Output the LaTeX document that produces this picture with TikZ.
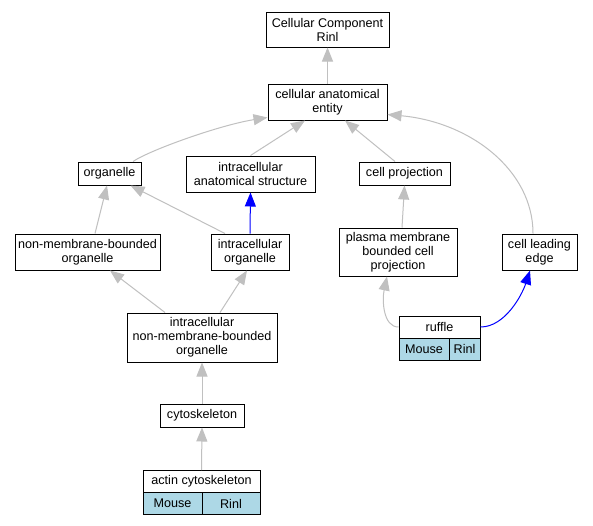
\documentclass[tikz,border=0pt]{standalone}
\usepackage{fontspec}
\setmainfont{Liberation Sans}
\usetikzlibrary{arrows.meta}
\definecolor{edgegray}{RGB}{192,192,192}
\definecolor{cellblue}{RGB}{173,216,230}
\tikzset{
  box/.style={draw=black, line width=1pt, rectangle, inner sep=0pt, align=center, font=\fontsize{12.6}{14}\selectfont},
  cell/.style={box, fill=cellblue},
  gedge/.style={draw=edgegray, line width=1pt, -{Triangle[length=14pt,width=11pt]}},
  bedge/.style={draw=blue, line width=1pt, -{Triangle[length=14pt,width=11pt]}},
}
\begin{document}
\begin{tikzpicture}[x=1pt,y=-1pt]
\useasboundingbox (0,0) rectangle (593,525);
\fill[white] (0,0) rectangle (593,525);
% nodes
\node[box, minimum width=123, minimum height=35] (cc) at (327.5,29.5) {Cellular Component\\Rinl};
\node[box, minimum width=119, minimum height=36] (ent) at (327.5,102) {cellular anatomical\\entity};
\node[box, minimum width=63, minimum height=23] (org) at (109.5,173.5) {organelle};
\node[box, minimum width=129, minimum height=36] (ias) at (250.5,174) {intracellular\\anatomical structure};
\node[box, minimum width=91, minimum height=23] (cp) at (404.5,173.5) {cell projection};
\node[box, minimum width=145, minimum height=36] (nmbo) at (87.5,252) {non-membrane-bounded\\organelle};
\node[box, minimum width=78, minimum height=36] (io) at (250,252) {intracellular\\organelle};
\node[box, minimum width=118, minimum height=48] (pmbcp) at (398,252) {plasma membrane\\bounded cell\\projection};
\node[box, minimum width=75, minimum height=36] (cle) at (539.5,252) {cell leading\\edge};
\node[box, minimum width=150, minimum height=49] (inmbo) at (202,337.5) {intracellular\\non-membrane-bounded\\organelle};
\node[box, minimum width=84, minimum height=23] (cyto) at (202,415.5) {cytoskeleton};
% ruffle record
\node[box, minimum width=81, minimum height=22] (ruf) at (439.5,327) {ruffle};
\node[cell, minimum width=50, minimum height=22] (rufm) at (424,349) {Mouse};
\node[cell, minimum width=31, minimum height=22] (rufr) at (464.5,349) {Rinl};
% actin record
\node[box, minimum width=117, minimum height=22] (act) at (201.5,481.5) {actin cytoskeleton};
\node[cell, minimum width=59, minimum height=22] (actm) at (172.5,503.5) {Mouse};
\node[cell, minimum width=58, minimum height=22] (actr) at (231,503.5) {Rinl};
% edges
\draw[gedge] (ent.north) -- (cc.south);
\draw[gedge] ([xshift=23.5pt]org.north) .. controls (150,150) and (220,125) .. ([yshift=3pt]ent.south west);
\draw[gedge] (ias.north) -- ([xshift=-22.5pt]ent.south);
\draw[gedge] ([xshift=-9.5pt]cp.north) -- ([xshift=17.5pt]ent.south);
\draw[gedge] ([xshift=-6.5pt]cle.north) .. controls (533,170) and (470,122) .. ([yshift=6pt]ent.south east);
\draw[gedge] ([xshift=7.5pt]nmbo.north) -- ([xshift=-2.5pt]org.south);
\draw[gedge] ([xshift=-25pt]io.north) -- ([xshift=-11pt]org.south east);
\draw[bedge] (io.north) -- (ias.south);
\draw[gedge] ([xshift=4pt]pmbcp.north) -- (cp.south);
\draw[gedge] ([xshift=-37pt]inmbo.north) -- ([xshift=22.5pt]nmbo.south);
\draw[gedge] ([xshift=18pt]inmbo.north) -- ([xshift=-3pt]io.south);
\draw[gedge] (cyto.north) -- (inmbo.south);
\draw[gedge] (act.north) -- (cyto.south);
\draw[gedge] (ruf.west) .. controls (383,327) and (382,300) .. ([xshift=-11pt]pmbcp.south);
\draw[bedge] (ruf.east) .. controls (505,327) and (522,295) .. ([xshift=-9.5pt]cle.south);
\end{tikzpicture}
\end{document}
